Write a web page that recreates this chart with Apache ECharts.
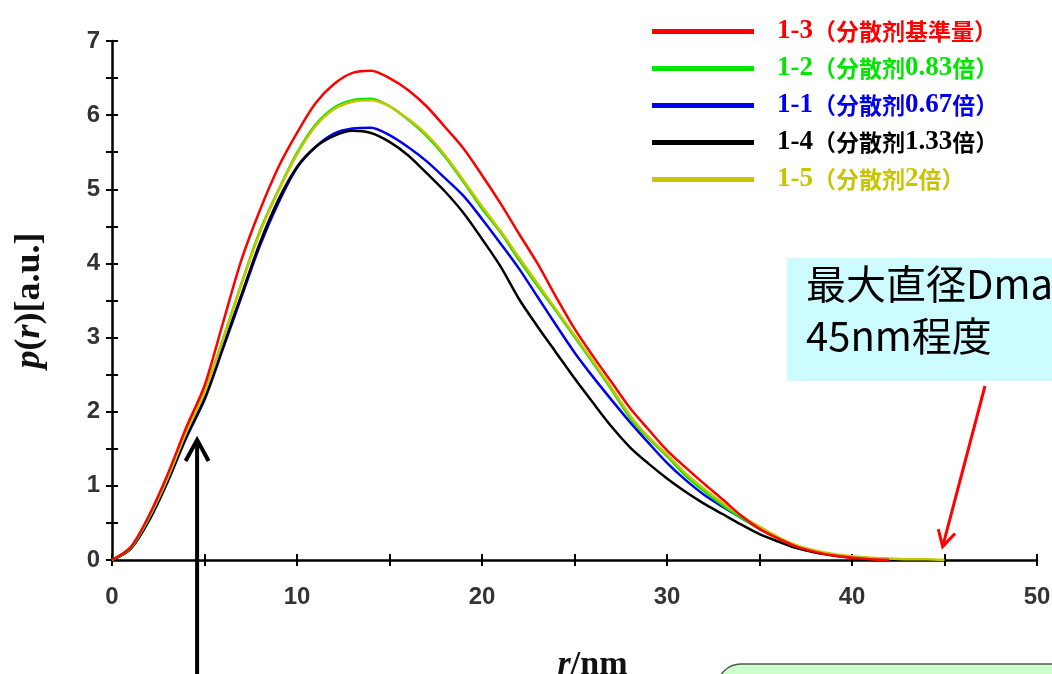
<!DOCTYPE html>
<html>
<head>
<meta charset="utf-8">
<script src="https://cdn.jsdelivr.net/npm/echarts@6/dist/echarts.min.js"></script>
<style>
  html, body { margin: 0; padding: 0; background: #fff; overflow: hidden; }
  #main { width: 1052px; height: 674px; }
</style>
</head>
<body>
<div id="main"></div>
<script>
// r / nm
var rValues = [0, 1, 2, 3, 4, 5, 6, 7, 8, 9, 10, 11, 12, 13, 14, 15, 16, 17, 18, 19, 20,
  21, 22, 23, 24, 25, 26, 27, 28, 29, 30, 31, 32, 33, 34, 35, 36, 37, 38, 39, 40, 41, 42, 43, 44, 45];

// p(r) [a.u.]
var p13 = [0, 0.17, 0.6, 1.15, 1.78, 2.35, 3.2, 4.05, 4.72, 5.3, 5.76, 6.16, 6.42, 6.57, 6.6, 6.5, 6.34, 6.12, 5.84, 5.55, 5.19,
  4.81, 4.4, 4.0, 3.55, 3.12, 2.75, 2.4, 2.05, 1.76, 1.48, 1.25, 1.03, 0.82, 0.6, 0.42, 0.29, 0.18, 0.11, 0.06, 0.03, 0.01, 0];
var p12 = [0, 0.16, 0.57, 1.1, 1.72, 2.27, 2.98, 3.73, 4.44, 4.99, 5.49, 5.87, 6.1, 6.2, 6.22, 6.12, 5.94, 5.72, 5.44, 5.1, 4.74,
  4.42, 4.05, 3.7, 3.36, 3.01, 2.66, 2.3, 1.92, 1.64, 1.4, 1.14, 0.93, 0.74, 0.57, 0.42, 0.29, 0.19, 0.12, 0.07, 0.04, 0.02, 0];
var p11 = [0, 0.15, 0.53, 1.05, 1.64, 2.16, 2.85, 3.55, 4.24, 4.82, 5.29, 5.57, 5.75, 5.82, 5.83, 5.73, 5.57, 5.38, 5.15, 4.91, 4.6,
  4.27, 3.93, 3.55, 3.17, 2.8, 2.47, 2.16, 1.86, 1.58, 1.31, 1.08, 0.88, 0.72, 0.57, 0.42, 0.3, 0.19, 0.12, 0.07, 0.04, 0.02, 0];
var p14 = [0, 0.15, 0.54, 1.06, 1.66, 2.18, 2.88, 3.58, 4.28, 4.86, 5.3, 5.57, 5.72, 5.79, 5.76, 5.64, 5.46, 5.22, 4.97, 4.68, 4.33,
  3.96, 3.52, 3.15, 2.8, 2.45, 2.12, 1.8, 1.52, 1.3, 1.1, 0.92, 0.76, 0.62, 0.48, 0.35, 0.25, 0.16, 0.1, 0.06, 0.03, 0];
var p15 = [0, 0.17, 0.58, 1.11, 1.72, 2.26, 2.97, 3.72, 4.42, 4.98, 5.47, 5.85, 6.08, 6.18, 6.2, 6.12, 5.95, 5.74, 5.46, 5.12, 4.77,
  4.44, 4.08, 3.73, 3.38, 3.03, 2.68, 2.32, 1.95, 1.66, 1.42, 1.17, 0.96, 0.77, 0.6, 0.45, 0.31, 0.2, 0.13, 0.08, 0.05, 0.03, 0.02, 0.01, 0.01, 0];

var xTicks = [0, 10, 20, 30, 40, 50];
var yTicks = [0, 1, 2, 3, 4, 5, 6, 7];

// legend order as in the picture
var names = ["1-3（分散剂基準量）", "1-2（分散剂0.83倍）", "1-1（分散剂0.67倍）", "1-4（分散剂1.33倍）", "1-5（分散剂2倍）"];
var colors = ["#ff0000", "#00e600", "#0000f0", "#000000", "#c8c400"];

function pairs(arr) {
  var out = [];
  for (var i = 0; i < arr.length; i++) out.push([rValues[i], arr[i]]);
  return out;
}

function line(name, arr, color) {
  return {
    name: name, type: "line", data: pairs(arr), smooth: 0.3, showSymbol: false,
    xAxisIndex: 0, yAxisIndex: 0,
    itemStyle: { color: color }, lineStyle: { color: color, width: 2.5 }
  };
}

var labelFont = { fontFamily: "Liberation Sans", fontWeight: "bold", fontSize: 24, color: "#333" };

var myChart = echarts.init(document.getElementById("main"));
var option = {
  animation: false,
  grid: { left: 112, right: 15, top: 41, bottom: 114, outerBoundsMode: "none" },
  legend: {
    orient: "vertical", left: 647, top: 13, itemWidth: 102, itemHeight: 5, itemGap: 10, icon: "rect",
    data: names.map(function (n, i) { return { name: n, textStyle: { color: colors[i] } }; }),
    formatter: function (name) {
      return name.replace(/([0-9.\-]+)|([^0-9.\-]+)/g, function (m, d, c) {
        return d ? "{a|" + d + "}" : "{b|" + c + "}";
      });
    },
    textStyle: {
      padding: [0, 0, 0, 18],
      rich: {
        a: { fontFamily: "Liberation Serif", fontWeight: "bold", fontSize: 27, lineHeight: 28 },
        b: { fontFamily: "Noto Sans CJK SC", fontWeight: "bold", fontSize: 23, lineHeight: 28 }
      }
    }
  },
  xAxis: [{
    type: "value", min: 0, max: 50, interval: 5,
    name: "{i|r}{n|/nm}", nameLocation: "middle", nameGap: 88,
    nameTextStyle: {
      padding: [0, 0, 0, 36],
      rich: {
        i: { fontFamily: "Liberation Serif", fontStyle: "italic", fontWeight: "bold", fontSize: 34, color: "#111" },
        n: { fontFamily: "Liberation Serif", fontWeight: "bold", fontSize: 34, color: "#111" }
      }
    },
    axisLine: { lineStyle: { color: "#000", width: 2.5 } },
    axisTick: { length: 6, lineStyle: { color: "#000", width: 2 } },
    splitLine: { show: false },
    axisLabel: Object.assign({ margin: 25, formatter: function (v) { return xTicks.indexOf(v) >= 0 ? String(v) : ""; } }, labelFont)
  }, {
    type: "value", min: 0, max: 50, interval: 5, position: "bottom",
    axisLine: { show: false },
    axisTick: { inside: true, length: 6, lineStyle: { color: "#000", width: 2 } },
    splitLine: { show: false }, axisLabel: { show: false }
  }],
  yAxis: [{
    type: "value", min: 0, max: 7, interval: 0.5,
    name: "{i|p}{n|(}{i|r}{n|)[a.u.]}", nameLocation: "middle", nameRotate: 90, nameGap: 64,
    nameTextStyle: {
      rich: {
        i: { fontFamily: "Liberation Serif", fontStyle: "italic", fontWeight: "bold", fontSize: 36, color: "#111" },
        n: { fontFamily: "Liberation Serif", fontWeight: "bold", fontSize: 36, color: "#111" }
      }
    },
    axisLine: { show: true, lineStyle: { color: "#000", width: 2.5 } },
    axisTick: { show: true, length: 6, lineStyle: { color: "#000", width: 2 } },
    splitLine: { show: false },
    axisLabel: Object.assign({ margin: 12, formatter: function (v) { return yTicks.indexOf(v) >= 0 ? String(v) : ""; } }, labelFont)
  }, {
    type: "value", min: 0, max: 7, interval: 0.5, position: "left",
    axisLine: { show: false },
    axisTick: { show: true, inside: true, length: 6, lineStyle: { color: "#000", width: 2 } },
    splitLine: { show: false }, axisLabel: { show: false }
  }],
  series: [
    line(names[2], p11, colors[2]),
    line(names[3], p14, colors[3]),
    line(names[1], p12, colors[1]),
    line(names[4], p15, colors[4]),
    line(names[0], p13, colors[0])
  ]
};
myChart.setOption(option);

// annotations: arrows pointing at data positions
function arrowHead(tail, tip, len, ang) {
  var a = Math.atan2(tail[1] - tip[1], tail[0] - tip[0]);
  return [
    [tip[0] + len * Math.cos(a + ang), tip[1] + len * Math.sin(a + ang)],
    tip,
    [tip[0] + len * Math.cos(a - ang), tip[1] + len * Math.sin(a - ang)]
  ];
}

var redTip = myChart.convertToPixel({ gridIndex: 0 }, [44.9, 0.18]);
var redTail = [985, 386];
var blackTip = myChart.convertToPixel({ gridIndex: 0 }, [4.6, 1.62]);
var blackTail = [blackTip[0], 690];

myChart.setOption({
  graphic: [
    { type: "rect", z: 100, shape: { x: 787, y: 258, width: 300, height: 123 }, style: { fill: "#ccfcff" } },
    { type: "text", z: 101, x: 806, y: 264, style: { text: "最大直径Dmax", font: "40px 'Noto Sans CJK JP'", fill: "#000" } },
    { type: "text", z: 101, x: 806, y: 316, style: { text: "45nm程度", font: "40px 'Noto Sans CJK JP'", fill: "#000" } },
    { type: "line", z: 100, shape: { x1: redTail[0], y1: redTail[1], x2: redTip[0], y2: redTip[1] }, style: { stroke: "#ff0000", lineWidth: 3 } },
    { type: "polyline", z: 100, shape: { points: arrowHead(redTail, redTip, 18, 0.5) }, style: { stroke: "#ff0000", lineWidth: 3, fill: null } },
    { type: "line", z: 100, shape: { x1: blackTail[0], y1: blackTail[1], x2: blackTip[0], y2: blackTip[1] }, style: { stroke: "#000", lineWidth: 4 } },
    { type: "polyline", z: 100, shape: { points: arrowHead(blackTail, blackTip, 24, 0.5) }, style: { stroke: "#000", lineWidth: 4, fill: null } },
    { type: "rect", z: 100, shape: { x: 717, y: 664, width: 420, height: 80, r: 24 }, style: { fill: "#ccffcc", stroke: "#555", lineWidth: 1.5 } }
  ]
});
</script>
</body>
</html>
